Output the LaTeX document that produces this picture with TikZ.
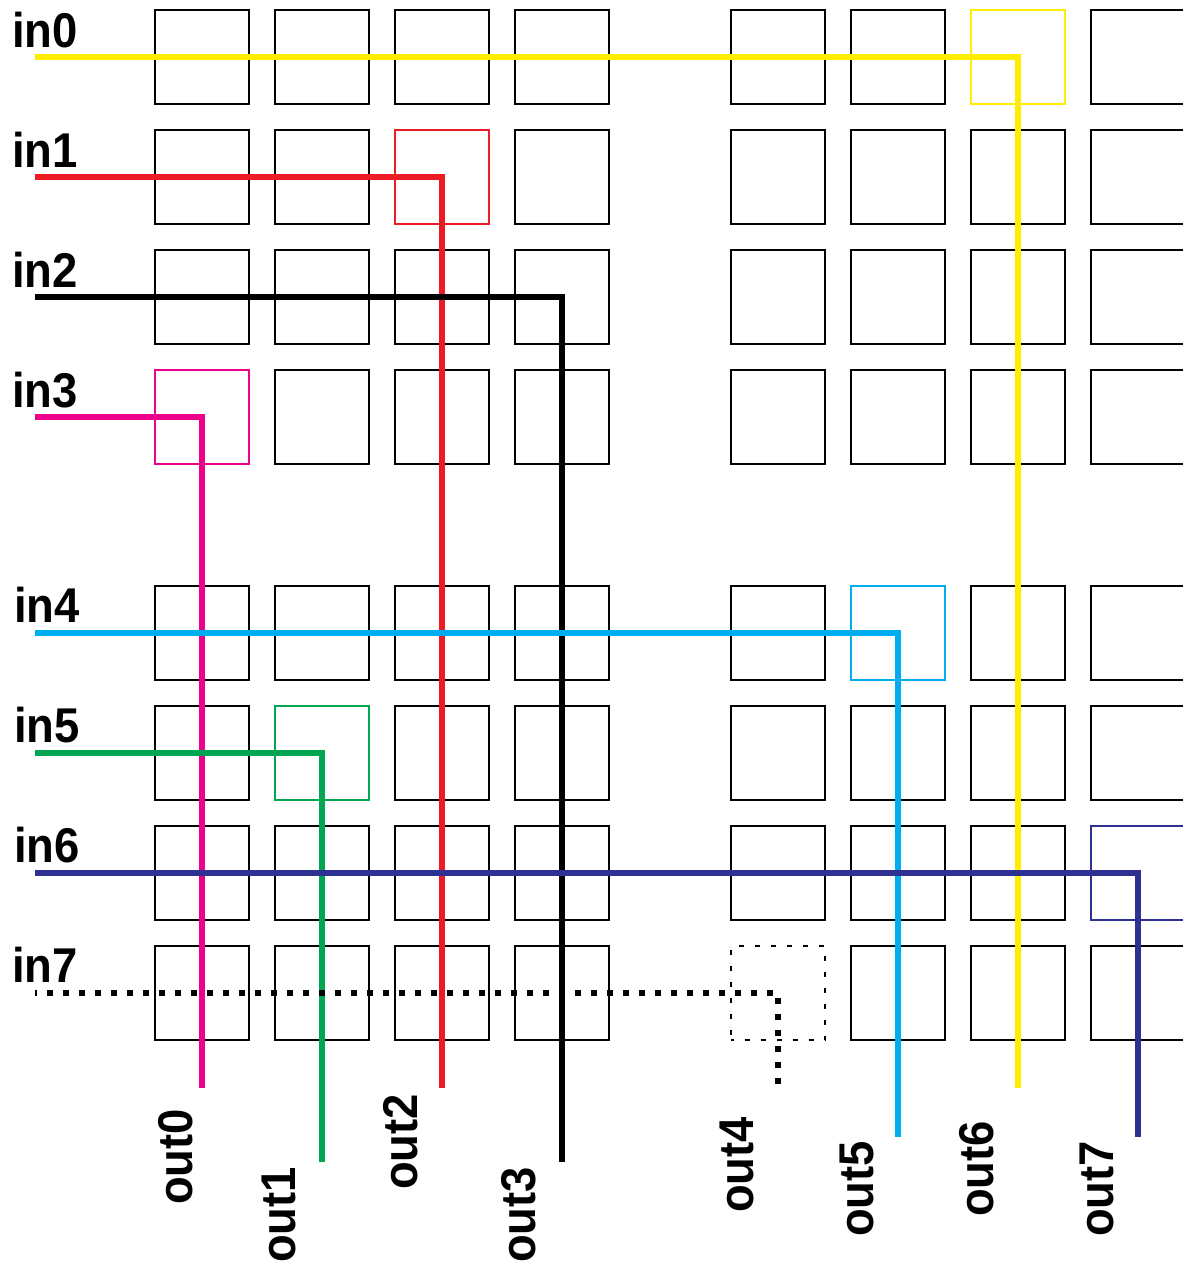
\documentclass[tikz,border=0pt]{standalone}
\usepackage{fontspec}
\setmainfont{Liberation Sans}
\definecolor{wyellow}{RGB}{255,237,0}
\definecolor{wred}{RGB}{237,28,36}
\definecolor{wmagenta}{RGB}{236,0,140}
\definecolor{wcyan}{RGB}{0,174,239}
\definecolor{wgreen}{RGB}{0,166,81}
\definecolor{wnavy}{RGB}{46,49,146}
\begin{document}
\begin{tikzpicture}[x=1bp,y=-1bp,
  cell/.style={draw,line width=2.8bp,minimum size=94bp,inner sep=0pt,outer sep=0pt},
  hot/.style={draw=#1,line width=2bp},
  wire/.style={line width=6.8bp,draw=#1,line join=miter},
  lbl/.style={font=\fontsize{49}{49}\selectfont\bfseries,inner sep=0pt,anchor=base west},
  % crosspoints that are switched on
  c06/.style={hot=wyellow},
  c12/.style={hot=wred},
  c30/.style={hot=wmagenta},
  c45/.style={hot=wcyan},
  c51/.style={hot=wgreen},
  c67/.style={hot=wnavy},
  c74/.style={hot=black,dash pattern=on 5bp off 11bp,dash phase=2.5bp},
  ]
\useasboundingbox (0,0) rectangle (1183,1266);

% crossbar cells
\foreach \r/\y in {0/57,1/177,2/297,3/417,4/633,5/753,6/873,7/993}
  \foreach \c/\x in {0/202,1/322,2/442,3/562,4/778,5/898,6/1018,7/1138}
    \node[cell,c\r\c/.try] (c\r\c) at (\x,\y) {};

% wire ends
\foreach \r/\y in {0/57,1/177,2/297,3/417,4/633,5/753,6/873,7/993}
  \coordinate (i\r) at (35,\y);
\coordinate (o0) at (202,1088);
\coordinate (o1) at (322,1162);
\coordinate (o2) at (442,1088);
\coordinate (o3) at (562,1162);
\coordinate (o4) at (778,1088);
\coordinate (o5) at (898,1137);
\coordinate (o6) at (1018,1088);
\coordinate (o7) at (1138,1137);

% routed connections
\draw[wire=wyellow]  (i0) -- (c06.center) -- (o6);
\draw[wire=wred]     (i1) -- (c12.center) -- (o2);
\draw[wire=black]    (i2) -- (c23.center) -- (o3);
\draw[wire=wmagenta] (i3) -- (c30.center) -- (o0);
\draw[wire=wcyan]    (i4) -- (c45.center) -- (o5);
\draw[wire=wgreen]   (i5) -- (c51.center) -- (o1);
\draw[wire=wnavy]    (i6) -- (c67.center) -- (o7);
\draw[wire=black,dash pattern=on 5.5bp off 10.5bp,dash phase=4bp] (i7) -- (c74.center) -- (o4);

% input labels
\node[lbl] (lin0) at (12,47)  {\scalebox{0.93}[1]{in0}};
\node[lbl] (lin1) at (12,167) {\scalebox{0.93}[1]{in1}};
\node[lbl] (lin2) at (12,287) {\scalebox{0.93}[1]{in2}};
\node[lbl] (lin3) at (12,407) {\scalebox{0.93}[1]{in3}};
\node[lbl] (lin4) at (14,622) {\scalebox{0.93}[1]{in4}};
\node[lbl] (lin5) at (14,742) {\scalebox{0.93}[1]{in5}};
\node[lbl] (lin6) at (14,862) {\scalebox{0.93}[1]{in6}};
\node[lbl] (lin7) at (12,982) {\scalebox{0.93}[1]{in7}};

% output labels
\node[lbl,rotate=90] (lout0) at (192,1205) {\scalebox{0.93}[1]{out0}};
\node[lbl,rotate=90] (lout1) at (295,1263) {\scalebox{0.93}[1]{out1}};
\node[lbl,rotate=90] (lout2) at (417,1190) {\scalebox{0.93}[1]{out2}};
\node[lbl,rotate=90] (lout3) at (535,1263) {\scalebox{0.93}[1]{out3}};
\node[lbl,rotate=90] (lout4) at (753,1213) {\scalebox{0.93}[1]{out4}};
\node[lbl,rotate=90] (lout5) at (873,1237) {\scalebox{0.93}[1]{out5}};
\node[lbl,rotate=90] (lout6) at (993,1217) {\scalebox{0.93}[1]{out6}};
\node[lbl,rotate=90] (lout7) at (1113,1237) {\scalebox{0.93}[1]{out7}};
\end{tikzpicture}
\end{document}
